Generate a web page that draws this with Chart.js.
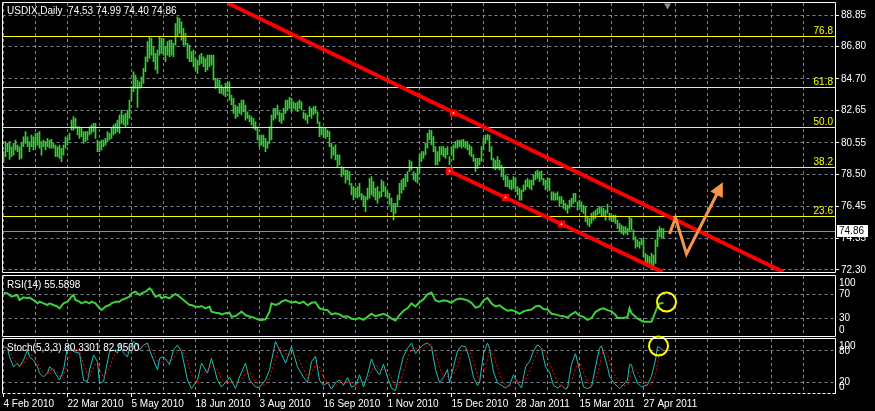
<!DOCTYPE html>
<html>
<head>
<meta charset="utf-8">
<script src="https://cdn.jsdelivr.net/npm/chart.js@4.4.1/dist/chart.umd.min.js"></script>
<style>
  html, body { margin: 0; padding: 0; background: #000; }
  body { width: 875px; height: 411px; position: relative; overflow: hidden; }
  canvas { position: absolute; left: 0; }
</style>
</head>
<body>
<canvas id="priceCanvas" width="875" height="274" style="top:0px"></canvas>
<canvas id="rsiCanvas" width="875" height="66" style="top:272px"></canvas>
<canvas id="stochCanvas" width="875" height="85" style="top:326px"></canvas>
<script>
// USDIX daily, one bar per trading day starting 4 Feb 2010
const barHighs = [
  79.98, 80.63, 80.52, 80.63, 80.30, 80.52, 80.74, 80.41, 80.30, 80.52,
  80.95, 81.28, 80.95, 80.63, 81.06, 80.95, 81.17, 81.21, 81.28, 80.63,
  80.74, 80.63, 80.84, 80.74, 80.78, 80.52, 80.41, 80.30, 80.41, 80.20,
  80.41, 80.95, 80.84, 81.17, 82.03, 82.25, 82.14, 81.60, 81.60, 81.49,
  81.28, 81.28, 81.28, 81.60, 81.71, 81.82, 81.82, 80.74, 80.63, 80.74,
  80.74, 80.84, 81.28, 81.17, 81.49, 81.71, 81.82, 82.03, 82.36, 82.68,
  82.36, 82.47, 82.68, 83.33, 84.20, 85.17, 84.95, 84.63, 84.52, 84.84,
  85.39, 86.14, 87.12, 87.40, 87.33, 86.79, 86.36, 86.58, 87.44, 87.33,
  87.33, 86.79, 87.12, 87.22,
  87.22, 87.01, 88.30, 88.74, 88.63, 88.41, 87.98, 87.66, 87.01, 86.90,
  86.47, 86.58, 86.03, 85.93, 86.25, 86.36, 86.14, 86.03, 86.25, 86.25,
  86.25, 86.25, 84.74, 84.74, 84.63, 84.30, 84.09, 84.41, 84.52, 84.52,
  83.65, 83.44, 83.01, 82.90, 83.11, 83.33, 83.33, 83.01, 82.57, 82.36,
  82.25, 82.14, 81.92, 81.60, 81.06, 81.06, 81.06, 80.84, 80.63, 81.60,
  82.36, 82.79, 82.79, 83.01, 82.57, 82.47, 82.79, 83.33, 83.33, 83.50,
  83.44, 83.22, 83.11, 83.22, 83.33, 83.22, 82.57, 82.47, 82.36, 82.90,
  82.79, 82.90, 82.94, 82.57, 81.92, 81.60, 81.49, 81.49, 81.38, 81.28,
  80.52, 80.30,
  80.42, 79.77, 79.77, 79.01, 78.90, 78.79, 78.79, 78.69, 77.93, 77.71,
  77.61, 77.71, 77.93, 77.28, 77.17, 77.06, 77.61, 78.25, 78.36, 78.04,
  77.61, 77.71, 77.39, 78.15, 78.04, 77.71, 77.39, 77.28, 76.96, 76.63,
  76.63, 77.17, 77.93, 78.15, 78.25, 78.47, 78.69, 79.44, 79.34, 78.69,
  78.58, 78.90, 79.77, 79.98, 79.98, 80.52, 81.17, 81.39, 81.35, 80.96,
  80.31, 79.98, 80.31, 80.31, 80.31, 80.20, 80.31, 79.66, 80.31, 80.42,
  80.63, 80.74, 80.74, 80.74, 80.78, 80.63, 80.63, 80.42, 80.31, 79.77,
  79.55, 79.55, 79.55, 80.31, 80.85, 81.06, 81.11, 81.06, 80.31, 79.55,
  79.44, 79.66,
  79.44, 79.11, 78.90, 78.46, 78.36, 78.14, 78.14, 78.36, 78.25, 77.71,
  77.60, 77.49, 77.81, 78.14, 78.25, 78.14, 78.14, 78.46, 78.68, 78.79,
  78.68, 78.74, 78.25, 78.14, 78.25, 78.25, 77.38, 77.38, 77.27, 77.38,
  77.06, 77.06, 76.84, 76.62, 76.52, 76.84, 76.95, 77.27, 77.27, 76.73,
  76.84, 76.73, 76.52, 76.41, 75.76, 75.65, 75.98, 76.08, 76.19, 76.30,
  76.41, 76.41, 76.30, 76.19, 76.58, 75.98, 75.87, 75.87, 75.87, 75.54,
  75.33, 75.22, 75.11, 75.11, 75.00, 75.76, 75.65, 74.90, 74.46, 74.25,
  74.14, 74.35, 74.25, 73.38, 73.27, 73.17, 73.38, 73.27, 74.25, 74.90,
  75.11, 75.00, 74.99
];
const barLows = [
  79.26, 79.66, 79.98, 79.48, 79.66, 79.76, 80.09, 79.98, 79.48, 79.55,
  80.30, 80.52, 80.30, 79.98, 80.30, 80.09, 80.30, 80.41, 80.20, 79.76,
  80.30, 80.09, 80.30, 80.20, 80.20, 80.20, 79.66, 79.66, 79.55, 79.33,
  79.76, 80.20, 80.41, 80.74, 81.38, 81.38, 81.49, 81.06, 80.84, 80.95,
  80.52, 80.63, 80.74, 81.06, 81.17, 81.28, 80.84, 79.98, 79.98, 80.09,
  80.30, 80.41, 80.63, 80.74, 80.84, 81.06, 81.17, 81.28, 81.17, 81.82,
  81.71, 81.60, 81.71, 82.14, 83.33, 83.87, 84.09, 82.86, 84.09, 84.20,
  84.41, 85.17, 85.82, 86.03, 86.25, 85.82, 85.28, 85.06, 86.25, 86.36,
  86.25, 85.82, 86.25, 86.14,
  86.25, 86.14, 86.90, 87.44, 87.66, 87.22, 86.90, 86.90, 86.03, 85.82,
  85.82, 85.49, 85.28, 85.06, 85.60, 85.71, 85.49, 85.17, 85.28, 85.49,
  85.60, 84.63, 84.09, 84.20, 83.76, 83.76, 83.65, 83.55, 83.87, 83.33,
  83.01, 82.47, 82.14, 82.25, 82.47, 82.36, 82.57, 82.03, 82.14, 81.92,
  81.71, 81.49, 81.38, 80.74, 80.30, 80.41, 80.30, 79.98, 80.20, 80.52,
  80.74, 82.03, 82.14, 82.36, 81.92, 81.82, 82.03, 82.47, 82.68, 82.79,
  82.57, 82.79, 82.68, 82.57, 82.79, 82.68, 82.14, 82.03, 81.82, 82.25,
  82.14, 82.36, 82.47, 81.82, 80.95, 81.06, 80.95, 80.84, 80.95, 80.30,
  79.55, 79.76,
  79.44, 79.01, 79.12, 78.36, 78.47, 77.93, 78.15, 77.82, 77.17, 76.85,
  77.06, 76.96, 77.06, 76.85, 76.41, 76.09, 76.85, 76.96, 77.17, 77.06,
  76.85, 76.63, 76.96, 77.06, 77.39, 77.06, 76.96, 76.52, 76.09, 75.55,
  75.98, 76.41, 76.85, 77.28, 77.50, 77.71, 78.04, 78.69, 78.79, 78.15,
  78.04, 77.93, 78.58, 79.34, 79.55, 79.77, 80.20, 80.74, 80.42, 79.98,
  79.12, 79.12, 79.34, 79.77, 79.66, 79.55, 79.77, 79.12, 79.77, 79.44,
  80.20, 80.20, 80.31, 80.20, 80.31, 80.20, 80.09, 79.77, 79.66, 79.34,
  78.69, 78.90, 79.12, 79.34, 80.09, 80.52, 80.74, 79.98, 79.44, 78.90,
  78.79, 78.90,
  78.79, 78.36, 78.14, 77.71, 77.71, 77.60, 77.49, 77.60, 77.38, 77.17,
  76.84, 76.84, 77.38, 77.49, 77.71, 77.60, 77.49, 77.81, 78.14, 78.25,
  78.03, 78.14, 77.81, 77.49, 77.60, 77.45, 76.84, 76.84, 76.84, 76.84,
  76.41, 76.62, 76.30, 76.19, 75.98, 76.30, 76.41, 76.62, 76.73, 76.19,
  76.41, 76.08, 75.98, 75.43, 75.22, 75.11, 75.33, 75.54, 75.65, 75.87,
  75.98, 75.76, 75.76, 75.54, 75.98, 75.54, 75.43, 75.43, 75.33, 75.00,
  74.79, 74.68, 74.57, 74.68, 74.57, 74.79, 74.90, 74.25, 73.71, 73.81,
  73.71, 73.92, 73.17, 72.73, 72.62, 72.73, 72.62, 72.58, 72.73, 73.81,
  74.46, 74.35, 74.40
];
const lastQuote = [74.53, 74.99, 74.40, 74.86]; // open high low close

const dateLabels = ['4 Feb 2010', '22 Mar 2010', '5 May 2010', '18 Jun 2010', '3 Aug 2010',
  '16 Sep 2010', '1 Nov 2010', '15 Dec 2010', '28 Jan 2011', '15 Mar 2011', '27 Apr 2011'];
const barsPerLabel = 32;
const barsPerGrid = 16;

const priceTicks = [88.85, 86.80, 84.70, 82.65, 80.55, 78.50, 76.45, 74.35, 72.30];
const fibLevels = [87.49, 84.18, 81.58, 78.99, 75.81];
const fibNames = ['76.8', '61.8', '50.0', '38.2', '23.6'];

// trend channel [bar, price]
const upperTrend = [[112, 89.63], [390, 72.17]];
const lowerTrend = [[223, 78.73], [329.5, 72.17]];
const channelMarks = [[225, 82.49], [223, 78.73], [251, 77.01], [279, 75.28]];
const forecastArrow = [[333, 74.64], [336, 75.68], [341.5, 73.34], [359, 77.82]];

// RSI(14) [bar, value]
const rsiReadings = [
  [0,72.6],[2,71.5],[4,66],[5,67.2],[7,68.8],[8,60.6],[10,65],[12,63.4],[13,64.5],[15,60.6],
  [17,55.2],[18,57.9],[20,55.2],[22,52.4],[23,55.2],[25,52.4],[27,49.7],[28,47],[30,55.2],[32,57.9],
  [34,66],[35,68.8],[36,60.6],[38,57.9],[39,55.2],[41,57.9],[43,55.2],[44,57.9],[46,55.2],[48,47],
  [49,44.2],[51,49.7],[53,52.4],[54,55.2],[56,57.9],[58,57.9],[59,60.6],[61,63.4],[63,66],[64,71.5],
  [66,74.3],[68,68.8],[69,71.5],[71,74.3],[73,79.7],[74,77],[76,66],[78,68.8],[79,63.4],[81,66],
  [83,63.4],[84,66],[86,70.5],[88,66],[89,63.4],[91,57.9],[93,52.4],[94,52.4],[96,49.7],[98,49.7],
  [99,50.8],[101,47],[103,49.7],[104,41.5],[106,39.9],[108,38.8],[109,37.1],[111,38.8],[113,39.9],[114,33.3],
  [116,34.4],[118,38.8],[119,41.5],[121,36],[123,33.3],[124,33.3],[126,30.6],[128,27.8],[129,27.8],[131,28.9],
  [133,41.5],[134,55.2],[136,52.4],[138,55.2],[139,57.9],[141,60.6],[143,57.9],[144,56.3],[146,57.9],[148,55.2],
  [150,58],[152,52],[154,56],[156,57],[158,47],[160,45],[162,44],[164,37],[166,39],[168,37],
  [170,33],[172,34],[174,30],[176,29],[178,31],[180,28],[182,33],[184,38],[186,34],[188,36],
  [190,38],[192,35],[194,30],[196,27],[198,36],[200,43],[202,47],[204,55],[206,50],[208,57],
  [210,62],[212,70],[214,73],[216,60],[218,58],[220,60],[222,59],[224,56],[226,61],[228,63],
  [230,62],[232,60],[234,56],[236,48],[238,50],[240,60],[242,64],[244,55],[246,50],[248,52],
  [250,47],[252,43],[254,44],[256,42],[258,38],[260,42],[262,44],[264,45],[266,50],[268,51],
  [270,46],[272,45],[274,38],[276,37],[278,35],[280,34],[282,32],[284,37],[286,41],[288,35],
  [290,33],[292,28],[294,31],[296,41],[298,45],[300,47],[302,44],[304,42],[306,36],[307,31],
  [310,31],[312,33],[313,47],[314,39],[316,33],[317,30],[320,25],[324,25],[325,33],[327,50],
  [328,55],[330,55.59]
];
const rsiTicks = [100, 70, 30, 0];
const rsiGrid = [70, 30];

// Stochastic(5,3,3) [bar, main, signal]
const stochReadings = [
  [0,88,85],[2,85,88],[3,69,80],[5,50,65],[7,57,55],[8,50,53],[10,63,56],[12,82,68],[13,69,74],[15,63,70],
  [17,50,60],[18,38,48],[20,31,38],[22,38,35],[23,50,42],[25,44,46],[27,31,40],[28,25,32],[30,44,33],[32,88,55],
  [33,91,75],[35,79,86],[38,76,80],[40,25,55],[42,22,35],[43,44,30],[45,72,48],[47,60,62],[48,19,45],[50,22,30],
  [53,79,48],[55,82,70],[57,76,80],[58,95,84],[60,76,84],[62,69,78],[63,85,76],[65,98,86],[67,91,92],[68,82,90],
  [70,91,87],[72,95,90],[73,82,88],[75,63,78],[77,44,60],[78,66,56],[80,69,60],[82,60,65],[83,54,60],[85,82,65],
  [87,91,78],[89,79,85],[92,25,60],[94,9,35],[97,25,18],[99,57,35],[102,38,45],[104,66,52],[107,25,45],[109,12,28],
  [112,25,18],[113,31,22],[116,9,22],[118,31,20],[121,57,38],[123,25,40],[126,12,22],[128,11,14],[131,25,16],[133,44,28],
  [136,98,65],[138,82,88],[141,57,75],[144,88,72],[147,50,70],[150,30,45],[152,20,30],[154,60,38],[156,70,55],[158,25,50],
  [160,15,30],[162,20,18],[164,8,15],[166,20,14],[168,25,20],[170,15,20],[172,30,22],[174,12,20],[176,15,14],[178,35,22],
  [180,12,22],[182,35,24],[184,65,42],[186,45,55],[188,35,45],[190,55,45],[192,30,42],[194,10,28],[196,5,14],[198,40,18],
  [200,70,40],[202,85,65],[204,95,85],[206,75,86],[208,85,82],[210,92,85],[212,95,90],[214,88,92],[216,45,75],[218,20,50],
  [220,30,30],[222,45,32],[223,20,32],[225,50,35],[227,80,52],[229,90,75],[231,88,86],[233,65,80],[235,30,60],[237,15,35],
  [238,20,22],[240,75,38],[242,95,65],[243,85,82],[245,40,72],[247,20,48],[249,15,25],[251,10,15],[253,15,12],[255,35,20],
  [257,20,25],[259,10,20],[261,50,25],[263,60,42],[265,80,62],[267,92,78],[269,85,86],[271,50,76],[273,40,58],[275,15,38],
  [277,10,22],[279,15,13],[281,8,12],[282,10,10],[284,55,22],[286,75,48],[288,44,58],[290,12,40],[292,9,22],[294,12,12],
  [296,50,24],[298,85,50],[299,90,70],[300,76,82],[302,50,74],[303,32,58],[305,20,38],[308,9,22],[309,12,14],[312,25,15],
  [313,54,28],[314,54,42],[315,38,48],[317,19,40],[319,12,24],[322,16,14],[324,32,18],[326,63,35],[327,88,58],[328,87,76],
  [330,80.33,82.95]
];
const stochTicks = [100, 80, 20, 0];
const stochGrid = [80, 20];

// highlight rings [bar, value]
const rsiRing = [331.5, 57.3];
const stochRing = [327.5, 89.5];

const X_MIN = -0.5, X_MAX = 415.75;
const GRID = '#7b848f';
const FONT = '"Liberation Sans", Arial, sans-serif';
Chart.defaults.font.family = FONT;
Chart.defaults.font.size = 10;
Chart.defaults.color = '#fff';

const gridBars = [];
for (let b = 0; b <= 400; b += barsPerGrid) gridBars.push(b);

function xAxis(showLabels) {
  return {
    type: 'linear', min: X_MIN, max: X_MAX, offset: false,
    afterBuildTicks: s => { s.ticks = gridBars.map(v => ({ value: v })); },
    grid: {
      color: GRID, drawTicks: showLabels, tickLength: 4, offset: false,
      tickColor: c => (c.tick && c.tick.value % barsPerLabel === 0 && c.tick.value / barsPerLabel < dateLabels.length) ? '#fff' : 'rgba(0,0,0,0)'
    },
    border: { display: false, dash: [3, 3] },
    ticks: {
      display: showLabels, autoSkip: false, maxRotation: 0, align: 'start', padding: 1, color: '#fff',
      callback: v => (v % barsPerLabel === 0 && dateLabels[v / barsPerLabel]) || ''
    },
    afterFit: s => { s.height = showLabels ? 18 : 0; s.paddingLeft = 0; s.paddingRight = 0; }
  };
}

function yAxis(min, max, gridValues, showLabels) {
  return {
    position: 'right', min, max,
    afterBuildTicks: s => { s.ticks = gridValues.map(v => ({ value: v })); },
    grid: { color: GRID, drawTicks: showLabels, tickLength: 4, tickColor: '#fff' },
    border: { display: false, dash: [3, 3] },
    ticks: { display: showLabels, color: '#fff', padding: 2, callback: v => v.toFixed(2) },
    afterFit: s => { s.width = 40; s.paddingTop = 0; s.paddingBottom = 0; }
  };
}

function drawFrame(chart, dashedBottom) {
  const { ctx, chartArea: a } = chart;
  const L = Math.floor(a.left) + 0.5, T = Math.round(a.top) - 0.5;
  const R = Math.round(a.right) + 0.5, B = Math.round(a.bottom) + 0.5;
  ctx.save();
  ctx.strokeStyle = '#fff';
  ctx.lineWidth = 1;
  ctx.beginPath();
  ctx.moveTo(L, B); ctx.lineTo(L, T); ctx.lineTo(R, T); ctx.lineTo(R, B);
  ctx.stroke();
  if (dashedBottom) ctx.setLineDash([3, 2]);
  ctx.beginPath(); ctx.moveTo(L, B); ctx.lineTo(R, B); ctx.stroke();
  ctx.restore();
}

function hLine(chart, value, color) {
  const { ctx, chartArea: a, scales: { y } } = chart;
  const py = Math.round(y.getPixelForValue(value)) + 0.5;
  ctx.save();
  ctx.strokeStyle = color;
  ctx.lineWidth = 1;
  ctx.beginPath(); ctx.moveTo(a.left, py); ctx.lineTo(a.right, py); ctx.stroke();
  ctx.restore();
}

function drawText(ctx, text, x, y, color, align) {
  ctx.save();
  ctx.font = '10px ' + FONT;
  ctx.fillStyle = color;
  ctx.textAlign = align || 'left';
  ctx.textBaseline = 'middle';
  ctx.fillText(text, x, y);
  ctx.restore();
}

function sideLabels(chart, values) {
  const { chartArea: a, scales: { y } } = chart;
  values.forEach(v => {
    const py = Math.min(Math.max(y.getPixelForValue(v), a.top + 7), a.bottom - 6);
    drawText(chart.ctx, String(v), a.right + 4, py, '#fff');
  });
}

const pts = arr => arr.map(p => ({ x: p[0], y: p[1] }));
const lastClose = lastQuote[3];

// ---------- price panel ----------
const pricePlugin = {
  id: 'priceDecor',
  afterDatasetDraw(chart, args) {
    if (args.index !== 0) return;
    // level lines sit above the bars but under the drawn objects
    hLine(chart, lastClose, '#8a9099');
    fibLevels.forEach(v => hLine(chart, v, '#ffff00'));
  },
  afterDatasetsDraw(chart) {
    const { ctx, chartArea: a, scales: { y } } = chart;
    // arrow head
    const meta = chart.getDatasetMeta(chart.data.datasets.findIndex(d => d.id === 'arrow'));
    const n = meta.data.length;
    const p1 = meta.data[n - 2], p2 = meta.data[n - 1];
    const ang = Math.atan2(p2.y - p1.y, p2.x - p1.x);
    const tipX = p2.x + Math.cos(ang) * 3, tipY = p2.y + Math.sin(ang) * 3;
    const bx = tipX - Math.cos(ang) * 14, by = tipY - Math.sin(ang) * 14;
    ctx.save();
    ctx.fillStyle = '#f7964a';
    ctx.beginPath();
    ctx.moveTo(tipX, tipY);
    ctx.lineTo(bx + Math.sin(ang) * 7, by - Math.cos(ang) * 7);
    ctx.lineTo(bx - Math.sin(ang) * 7, by + Math.cos(ang) * 7);
    ctx.closePath();
    ctx.fill();
    ctx.restore();

    fibLevels.forEach((v, i) => {
      const py = Math.round(y.getPixelForValue(v));
      drawText(ctx, fibNames[i], a.right - 2, py - 5, '#ffff00', 'right');
    });
    drawText(ctx, 'USDIX,Daily  ' + lastQuote.map(v => v.toFixed(2)).join(' '), 7, 11, '#fff');
    drawFrame(chart, false);
  },
  afterDraw(chart) {
    const { ctx, chartArea: a, scales: { y } } = chart;
    const py = Math.round(y.getPixelForValue(lastClose));
    ctx.save();
    ctx.fillStyle = '#fff';
    ctx.fillRect(a.right + 2, py - 6, 31, 12);
    ctx.restore();
    drawText(ctx, lastClose.toFixed(2), a.right + 4, py, '#000');
  }
};

const baseOptions = (padding, scales) => ({
  responsive: false, animation: false, events: [],
  layout: { autoPadding: false, padding },
  plugins: { legend: { display: false }, tooltip: { enabled: false } },
  scales
});

new Chart(document.getElementById('priceCanvas'), {
  type: 'bar',
  data: {
    datasets: [
      { data: barHighs.map((h, i) => ({ x: i, y: [barLows[i], h] })), backgroundColor: '#33d233',
        barThickness: 1, order: 10 },
      { type: 'line', data: pts(upperTrend), borderColor: '#ff0000', borderWidth: 4, pointRadius: 0, order: 3 },
      { type: 'line', data: pts(lowerTrend), borderColor: '#ff0000', borderWidth: 4, pointRadius: 0, order: 3 },
      { type: 'line', data: pts(channelMarks), showLine: false, pointStyle: 'rect', pointRadius: 5,
        pointBackgroundColor: '#ff0000', pointBorderWidth: 0, order: 2 },
      { type: 'line', data: pts(channelMarks), showLine: false, pointStyle: 'circle', pointRadius: 0.9,
        pointBackgroundColor: '#fff', pointBorderWidth: 0, order: 1 },
      { id: 'arrow', type: 'line', data: pts(forecastArrow), borderColor: '#f7964a', borderWidth: 3,
        pointRadius: 0, borderJoinStyle: 'miter', order: 1 },
      { type: 'line', data: [{ x: 332, y: 89.47 }], showLine: false, pointStyle: 'triangle', rotation: 180,
        pointRadius: 4, pointBackgroundColor: '#8a939c', pointBorderWidth: 0, clip: false, order: 1 }
    ]
  },
  options: baseOptions({ left: 2.5, top: 3, right: 0, bottom: 2 },
    { x: xAxis(false), y: yAxis(72.17, 89.63, priceTicks, true) }),
  plugins: [pricePlugin]
});

// ---------- RSI panel ----------
const rsiPlugin = {
  id: 'rsiDecor',
  afterDatasetsDraw(chart) {
    drawText(chart.ctx, 'RSI(14) 55.5898', 7, 13, '#fff');
    sideLabels(chart, rsiTicks);
    drawFrame(chart, false);
  }
};

new Chart(document.getElementById('rsiCanvas'), {
  type: 'line',
  data: {
    datasets: [
      { data: pts(rsiReadings), borderColor: '#3ad13a', borderWidth: 2, pointRadius: 0, order: 2 },
      { data: pts([rsiRing]), showLine: false, pointRadius: 9.5, pointBorderColor: '#ffff00',
        pointBorderWidth: 2, pointBackgroundColor: 'rgba(0,0,0,0)', clip: false, order: 1 }
    ]
  },
  options: baseOptions({ left: 2.5, top: 4, right: 0, bottom: 2 },
    { x: xAxis(false), y: yAxis(1.6, 100, rsiGrid, false) }),
  plugins: [rsiPlugin]
});

// ---------- Stochastic panel ----------
const stochPlugin = {
  id: 'stochDecor',
  afterDatasetsDraw(chart) {
    drawText(chart.ctx, 'Stoch(5,3,3) 80.3301 82.9500', 7, 22, '#fff');
    sideLabels(chart, stochTicks);
    drawFrame(chart, true);
  }
};

new Chart(document.getElementById('stochCanvas'), {
  type: 'line',
  data: {
    datasets: [
      { data: stochReadings.map(r => ({ x: r[0], y: r[1] })), borderColor: '#22c0b8', borderWidth: 1,
        pointRadius: 0, order: 3 },
      { data: stochReadings.map(r => ({ x: r[0], y: r[2] })), borderColor: '#ff0000', borderWidth: 1,
        borderDash: [2, 2], pointRadius: 0, order: 2 },
      { data: pts([stochRing]), showLine: false, pointRadius: 9.5, pointBorderColor: '#ffff00',
        pointBorderWidth: 2, pointBackgroundColor: 'rgba(0,0,0,0)', clip: false, order: 1 }
    ]
  },
  options: baseOptions({ left: 2.5, top: 13, right: 0, bottom: 0 },
    { x: xAxis(true), y: yAxis(0.5, 102.7, stochGrid, false) }),
  plugins: [stochPlugin]
});
</script>
</body>
</html>
